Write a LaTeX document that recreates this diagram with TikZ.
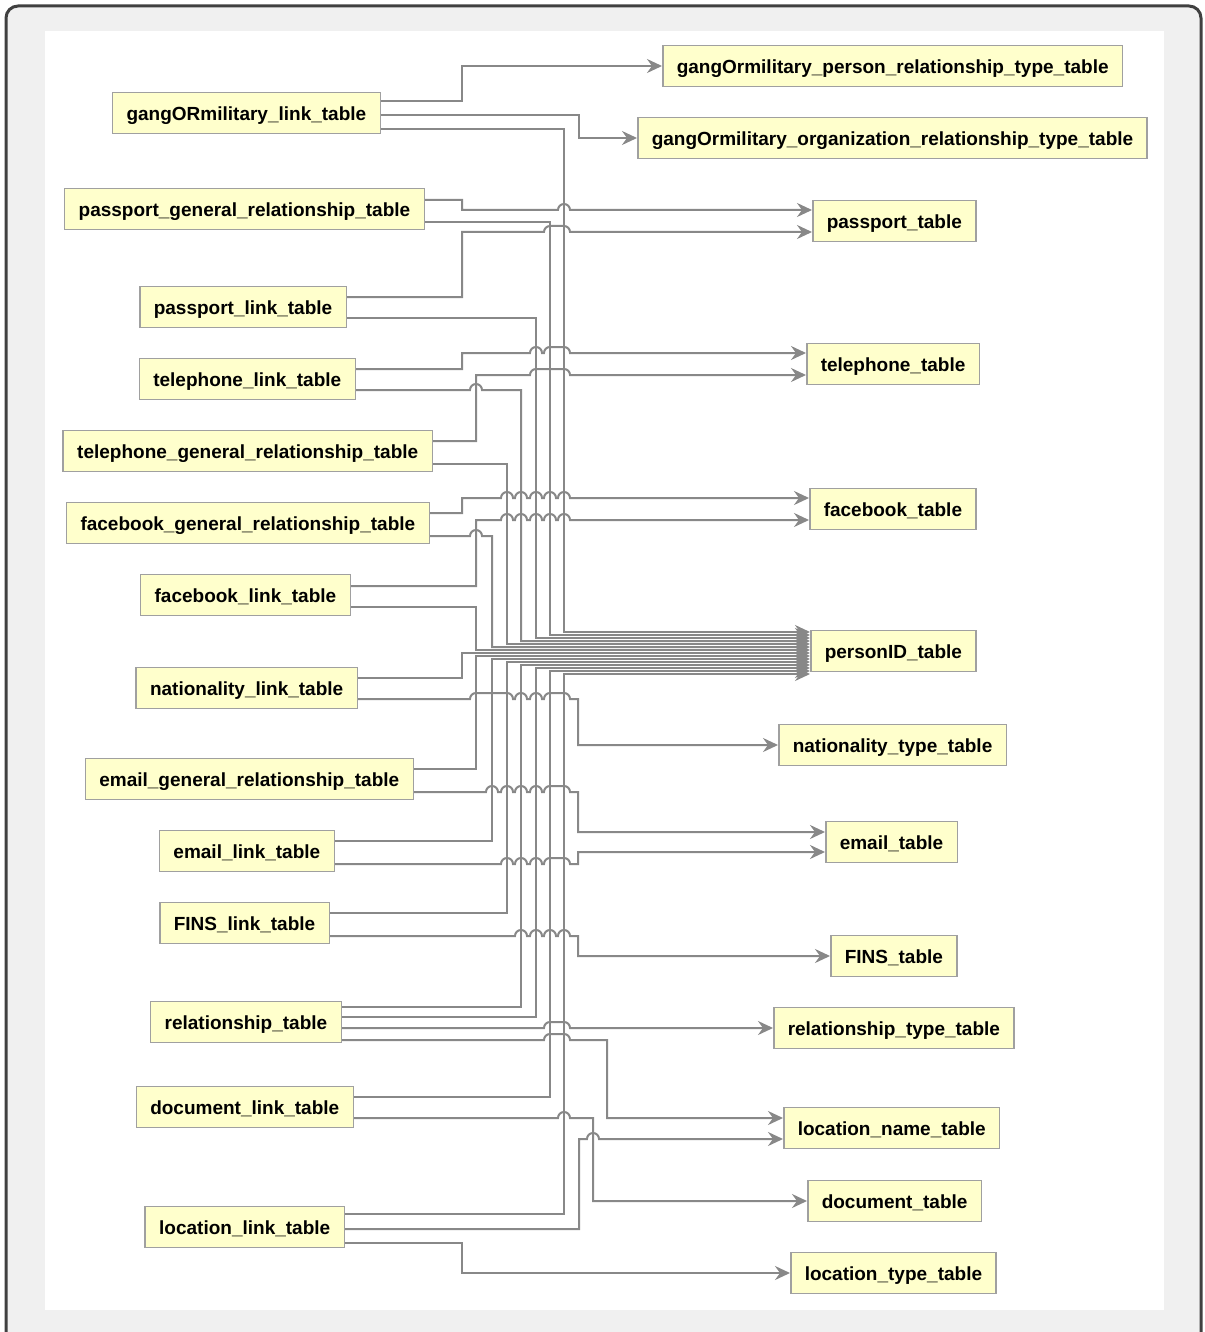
\documentclass[tikz,border=0pt]{standalone}
\usepackage{fontspec}
\setmainfont{Liberation Sans}
\usetikzlibrary{arrows.meta}
\definecolor{boxfill}{RGB}{255,255,204}
\definecolor{boxline}{RGB}{160,160,160}
\definecolor{lnkgray}{RGB}{136,136,136}
\definecolor{framebg}{RGB}{240,240,240}
\definecolor{framedark}{RGB}{64,64,64}
% hop a horizontal line over crossing verticals: spans a/b, y
\newcommand\hop[2]{\foreach \ha/\hb in {#1}{ -- (\ha-6,#2) arc[start angle=180,end angle=90,radius=6pt] -- (\hb,#2-6) arc[start angle=90,end angle=0,radius=6pt]}}
\begin{document}
\begin{tikzpicture}[x=1pt,y=-1pt,
	tbl/.style={draw=boxline, line width=1.5pt, fill=boxfill, minimum height=41pt, inner xsep=14pt, text height=17pt, text depth=1.4pt, font=\bfseries\fontsize{19}{22}\selectfont},
	lnk/.style={draw=lnkgray, line width=2pt, -{Stealth[length=15pt,width=14pt,inset=5pt]}}]
	\useasboundingbox (0,0) rectangle (1204,1332);
	\draw[framedark, fill=framebg, line width=3pt, rounded corners=12pt] (6,6) rectangle (1201,1345);
	\fill[white] (45,31) rectangle (1164,1310);
	% left tables
	\node[tbl, anchor=east] (gol) at (381,113) {gangORmilitary\_link\_table};
	\node[tbl, anchor=east] (pgr) at (425,209) {passport\_general\_relationship\_table};
	\node[tbl, anchor=east] (pl) at (347,307) {passport\_link\_table};
	\node[tbl, anchor=east] (tl) at (356,379) {telephone\_link\_table};
	\node[tbl, anchor=east] (tgr) at (433,451) {telephone\_general\_relationship\_table};
	\node[tbl, anchor=east] (fgr) at (430,523) {facebook\_general\_relationship\_table};
	\node[tbl, anchor=east] (fl) at (351,595) {facebook\_link\_table};
	\node[tbl, anchor=east] (nl) at (358,688) {nationality\_link\_table};
	\node[tbl, anchor=east] (egr) at (414,779) {email\_general\_relationship\_table};
	\node[tbl, anchor=east] (el) at (335,851) {email\_link\_table};
	\node[tbl, anchor=east] (fil) at (330,923) {FINS\_link\_table};
	\node[tbl, anchor=east] (rel) at (342,1022) {relationship\_table};
	\node[tbl, anchor=east] (dl) at (354,1107) {document\_link\_table};
	\node[tbl, anchor=east] (ll) at (345,1227) {location\_link\_table};
	% right tables
	\node[tbl, anchor=west] (gpr) at (662,66) {gangOrmilitary\_person\_relationship\_type\_table};
	\node[tbl, anchor=west] (gor) at (637,138) {gangOrmilitary\_organization\_relationship\_type\_table};
	\node[tbl, anchor=west] (pas) at (812,221) {passport\_table};
	\node[tbl, anchor=west] (tel) at (806,364) {telephone\_table};
	\node[tbl, anchor=west] (fb) at (809,509) {facebook\_table};
	\node[tbl, anchor=west] (pid) at (810,651) {personID\_table};
	\node[tbl, anchor=west] (nat) at (778,745) {nationality\_type\_table};
	\node[tbl, anchor=west] (em) at (825,842) {email\_table};
	\node[tbl, anchor=west] (fin) at (830,956) {FINS\_table};
	\node[tbl, anchor=west] (rty) at (773,1028) {relationship\_type\_table};
	\node[tbl, anchor=west] (lnm) at (783,1128) {location\_name\_table};
	\node[tbl, anchor=west] (doc) at (807,1201) {document\_table};
	\node[tbl, anchor=west] (lty) at (790,1273) {location\_type\_table};
	% links
	\draw[lnk] ([yshift=12pt]gol.east) -| (462,66) -- (gpr.west);
	\draw[lnk] ([yshift=-2pt]gol.east) -| (579,138) -- (gor.west);
	\draw[lnk] ([yshift=-16pt]gol.east) -| (564,632) -- ([yshift=19pt]pid.west);
	\draw[lnk] ([yshift=9pt]pgr.east) -| (462,210) \hop{564/564}{210} -- ([yshift=11pt]pas.west);
	\draw[lnk] ([yshift=-13pt]pgr.east) -| (550,635) -- ([yshift=16pt]pid.west);
	\draw[lnk] ([yshift=10pt]pl.east) -| (462,232) \hop{550/564}{232} -- ([yshift=-11pt]pas.west);
	\draw[lnk] ([yshift=-11pt]pl.east) -| (536,638) -- ([yshift=13pt]pid.west);
	\draw[lnk] ([yshift=10pt]tl.east) -| (462,353) \hop{536/536,550/564}{353} -- ([yshift=11pt]tel.west);
	\draw[lnk] ([yshift=-11pt]tl.east) \hop{476/476}{390} -| (521,641) -- ([yshift=10pt]pid.west);
	\draw[lnk] ([yshift=10pt]tgr.east) -| (476,375) \hop{536/564}{375} -- ([yshift=-11pt]tel.west);
	\draw[lnk] ([yshift=-13pt]tgr.east) -| (507,644) -- ([yshift=7pt]pid.west);
	\draw[lnk] ([yshift=10pt]fgr.east) -| (462,498) \hop{507/507,521/521,536/536,550/550,564/564}{498} -- ([yshift=11pt]fb.west);
	\draw[lnk] ([yshift=-13pt]fgr.east) \hop{476/476}{536} -| (492,647) -- ([yshift=4pt]pid.west);
	\draw[lnk] ([yshift=9pt]fl.east) -| (476,520) \hop{507/507,521/521,536/536,550/550,564/564}{520} -- ([yshift=-11pt]fb.west);
	\draw[lnk] ([yshift=-12pt]fl.east) -| (476,650) -- ([yshift=1pt]pid.west);
	\draw[lnk] ([yshift=10pt]nl.east) -| (462,653) -- ([yshift=-2pt]pid.west);
	\draw[lnk] ([yshift=-11pt]nl.east) \hop{476/507,521/521,536/536,550/564}{699} -| (578,745) -- (nat.west);
	\draw[lnk] ([yshift=10pt]egr.east) -| (476,656) -- ([yshift=-5pt]pid.west);
	\draw[lnk] ([yshift=-13pt]egr.east) \hop{492/492,507/507,521/521,536/536,550/564}{792} -| (578,832) -- ([yshift=10pt]em.west);
	\draw[lnk] ([yshift=10pt]el.east) -| (492,659) -- ([yshift=-8pt]pid.west);
	\draw[lnk] ([yshift=-13pt]el.east) \hop{507/507,521/521,536/536,550/564}{864} -| (578,852) -- ([yshift=-10pt]em.west);
	\draw[lnk] ([yshift=10pt]fil.east) -| (507,662) -- ([yshift=-11pt]pid.west);
	\draw[lnk] ([yshift=-13pt]fil.east) \hop{521/521,536/536,550/550,564/564}{936} -| (578,956) -- (fin.west);
	\draw[lnk] ([yshift=15pt]rel.east) -| (521,665) -- ([yshift=-14pt]pid.west);
	\draw[lnk] ([yshift=5pt]rel.east) -| (536,668) -- ([yshift=-17pt]pid.west);
	\draw[lnk] ([yshift=-6pt]rel.east) \hop{550/564}{1028} -- (rty.west);
	\draw[lnk] ([yshift=-18pt]rel.east) \hop{550/564}{1040} -| (607,1118) -- ([yshift=10pt]lnm.west);
	\draw[lnk] ([yshift=10pt]dl.east) -| (550,671) -- ([yshift=-20pt]pid.west);
	\draw[lnk] ([yshift=-11pt]dl.east) \hop{564/564}{1118} -| (593,1201) -- (doc.west);
	\draw[lnk] ([yshift=13pt]ll.east) -| (564,674) -- ([yshift=-23pt]pid.west);
	\draw[lnk] ([yshift=-2pt]ll.east) -| (579,1139) \hop{593/593}{1139} -- ([yshift=-11pt]lnm.west);
	\draw[lnk] ([yshift=-16pt]ll.east) -| (462,1273) -- (lty.west);
\end{tikzpicture}
\end{document}
